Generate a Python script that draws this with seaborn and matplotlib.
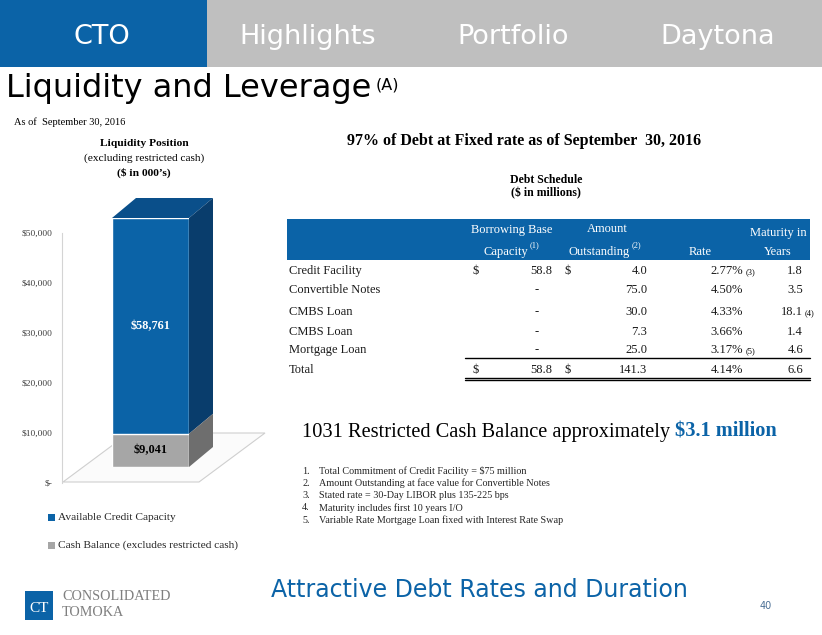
import matplotlib
matplotlib.use("Agg")
import matplotlib.pyplot as plt
from matplotlib.patches import Rectangle, Polygon
import seaborn as sns

# ---------------- data ----------------
nav_items = ["CTO", "Highlights", "Portfolio", "Daytona"]

liquidity_labels = ["Available Credit Capacity", "Cash Balance (excludes restricted cash)"]
credit_capacity = 58761
cash_balance = 9041
tick_values = [0, 10000, 20000, 30000, 40000, 50000]
tick_labels = ["$-", "$10,000", "$20,000", "$30,000", "$40,000", "$50,000"]

debt_names = ["Credit Facility", "Convertible Notes", "CMBS Loan", "CMBS Loan", "Mortgage Loan"]
borrowing_capacity = [58.8, None, None, None, None]
amount_outstanding = [4.0, 75.0, 30.0, 7.3, 25.0]
debt_rates = [2.77, 4.50, 4.33, 3.66, 3.17]
maturity_years = [1.8, 3.5, 18.1, 1.4, 4.6]
rate_notes = ["(3)", "", "", "", "(5)"]
maturity_notes = ["", "", "(4)", "", ""]
total_capacity = 58.8
total_amount = 141.3
total_rate = 4.14
total_maturity = 6.6

footnotes = [
    "Total Commitment of Credit Facility = $75 million",
    "Amount Outstanding at face value for Convertible Notes",
    "Stated rate = 30-Day LIBOR plus 135-225 bps",
    "Maturity includes first 10 years I/O",
    "Variable Rate Mortgage Loan fixed with Interest Rate Swap",
]

# ---------------- style ----------------
BLUE = "#0b63a7"
BLUE_TOP = "#0a4f8a"
BLUE_SIDE = "#093d6c"
GRAY = "#a6a6a6"
GRAY_SIDE = "#6e6e6e"
NAV_GRAY = "#bfbfbf"
SERIF = "Liberation Serif"
SANS = "DejaVu Sans"

sns.set_style("white")
plt.rcParams["font.family"] = [SANS]
plt.rcParams["text.color"] = "black"

W, H = 822, 635
fig = plt.figure(figsize=(W / 100, H / 100), dpi=100)


def box(x0, y0, x1, y1):
    return [x0 / W, 1 - y1 / H, (x1 - x0) / W, (y1 - y0) / H]


# background axes in pixel coordinates
bg = fig.add_axes([0, 0, 1, 1], zorder=0)
bg.set_xlim(0, W)
bg.set_ylim(H, 0)
bg.axis("off")

# header
bg.add_patch(Rectangle((0, 0), 207, 67, color=BLUE, lw=0))
bg.add_patch(Rectangle((207, 0), W - 207, 67, color=NAV_GRAY, lw=0))
for name, xc in zip(nav_items, [102, 308, 513, 718]):
    bg.text(xc, 37, name, color="white", fontsize=19.5, ha="center", va="center")

bg.text(6, 97, "Liquidity and Leverage", fontsize=23, ha="left", va="baseline")
bg.text(376, 78, "(A)", fontsize=11.5, ha="left", va="top")
bg.text(14, 125, "As of  September 30, 2016", fontsize=7.5, family=SERIF, va="baseline")

# ---------------- liquidity chart ----------------
bg.text(144, 143, "Liquidity Position", fontsize=8.2, family=SERIF, weight="bold", ha="center", va="center")
bg.text(144, 158, "(excluding restricted cash)", fontsize=8.2, family=SERIF, ha="center", va="center")
bg.text(144, 173, "($ in 000\u2019s)", fontsize=8.2, family=SERIF, weight="bold", ha="center", va="center")

# floor of the 3D chart
bg.add_patch(Polygon([(63, 482), (199, 482), (265, 433), (129, 433)], closed=True,
                     facecolor="#fbfbfb", edgecolor="#cfcfcf", lw=0.8, zorder=1))

ax = fig.add_axes(box(62, 233, 200, 483), zorder=1)
ax.set_facecolor("none")
ax.set_ylim(0, 50000)
ax.set_xlim(0, 1)
ax.set_yticks(tick_values)
ax.set_yticklabels(tick_labels, fontsize=6.8, family=SERIF, color="#404040")
ax.set_xticks([])
ax.tick_params(axis="y", length=0, pad=7)
for s in ["top", "right", "bottom"]:
    ax.spines[s].set_visible(False)
ax.spines["left"].set_color("#d4d4d4")
ax.spines["left"].set_linewidth(0.8)

total = credit_capacity + cash_balance
ax_bar = fig.add_axes(box(112, 218, 189, 467), zorder=2)
ax_bar.set_facecolor("none")
sns.barplot(x=[""], y=[total], color=BLUE, saturation=1, width=1, ax=ax_bar)
sns.barplot(x=[""], y=[cash_balance], color=GRAY, saturation=1, width=1, ax=ax_bar)
ax_bar.set_xlim(-0.5, 0.5)
ax_bar.set_ylim(0, total)
ax_bar.axis("off")

ax_bar.text(0, cash_balance + credit_capacity / 2, f"${credit_capacity:,}", color="white",
            fontsize=8.8, family=SERIF, weight="bold", ha="center", va="center")
ax_bar.text(0, cash_balance / 2, f"${cash_balance:,}", color="black",
            fontsize=8.8, family=SERIF, weight="bold", ha="center", va="center")

# 3D side and top faces from the bar geometry
to_bg = ax_bar.transData + bg.transData.inverted()
(xl, ytop), (xr, ymid) = to_bg.transform([(-0.5, total), (0.5, cash_balance)])
(_, ybot), = to_bg.transform([(0.5, 0)])
dx, dy = 24, -20
bg.add_patch(Polygon([(xl, ytop), (xr, ytop), (xr + dx, ytop + dy), (xl + dx, ytop + dy)],
                     closed=True, color=BLUE_TOP, lw=0, zorder=2))
bg.add_patch(Polygon([(xr, ytop), (xr + dx, ytop + dy), (xr + dx, ymid + dy), (xr, ymid)],
                     closed=True, color=BLUE_SIDE, lw=0, zorder=2))
bg.add_patch(Polygon([(xr, ymid), (xr + dx, ymid + dy), (xr + dx, ybot + dy), (xr, ybot)],
                     closed=True, color=GRAY_SIDE, lw=0, zorder=2))

# legend
for lab, col, yy in zip(liquidity_labels, [BLUE, GRAY], [517, 545]):
    bg.add_patch(Rectangle((48, yy - 3.5), 7, 7, color=col, lw=0))
    bg.text(58, yy, lab, fontsize=8.2, family=SERIF, va="center", color="#262626")

# ---------------- debt schedule ----------------
bg.text(524, 141, "97% of Debt at Fixed rate as of September  30, 2016", fontsize=11.5,
        family=SERIF, weight="bold", ha="center", va="center")
bg.text(546, 180, "Debt Schedule", fontsize=8.5, family=SERIF, weight="bold", ha="center", va="center")
bg.text(546, 193, "($ in millions)", fontsize=8.5, family=SERIF, weight="bold", ha="center", va="center")

bg.add_patch(Rectangle((287, 219), 810 - 287, 41, color=BLUE, lw=0))
hdr = dict(color="white", fontsize=9, family=SERIF, va="center")
bg.text(512, 230, "Borrowing Base", ha="center", **hdr)
bg.text(528, 252, "Capacity", ha="right", **hdr)
bg.text(530, 245, "(1)", ha="left", color="white", fontsize=6, family=SERIF, va="center")
bg.text(607, 229, "Amount", ha="center", **hdr)
bg.text(630, 252, "Outstanding", ha="right", **hdr)
bg.text(632, 245, "(2)", ha="left", color="white", fontsize=6, family=SERIF, va="center")
bg.text(700, 252, "Rate", ha="center", **hdr)
bg.text(778, 233, "Maturity in", ha="center", **hdr)
bg.text(778, 252, "Years", ha="center", **hdr)

cell = dict(fontsize=9, family=SERIF, va="center", color="#1a1a1a")
row_y = [271, 290, 312, 332, 350]
for i, y in enumerate(row_y):
    bg.text(289, y, debt_names[i], ha="left", **cell)
    if borrowing_capacity[i] is None:
        bg.text(537, y, "-", ha="center", **cell)
    else:
        bg.text(476, y, "$", ha="center", **cell)
        bg.text(552, y, f"{borrowing_capacity[i]:.1f}", ha="right", **cell)
        bg.text(568, y, "$", ha="center", **cell)
    bg.text(647, y, f"{amount_outstanding[i]:.1f}", ha="right", **cell)
    bg.text(743, y, f"{debt_rates[i]:.2f}%", ha="right", **cell)
    bg.text(803, y, f"{maturity_years[i]:.1f}", ha="right", **cell)
    if rate_notes[i]:
        bg.text(746, y + 1, rate_notes[i], ha="left", fontsize=6, family=SERIF, va="center")
    if maturity_notes[i]:
        bg.text(805, y + 1, maturity_notes[i], ha="left", fontsize=6, family=SERIF, va="center")

ty = 370
bg.text(289, ty, "Total", ha="left", **cell)
bg.text(476, ty, "$", ha="center", **cell)
bg.text(552, ty, f"{total_capacity:.1f}", ha="right", **cell)
bg.text(568, ty, "$", ha="center", **cell)
bg.text(647, ty, f"{total_amount:.1f}", ha="right", **cell)
bg.text(743, ty, f"{total_rate:.2f}%", ha="right", **cell)
bg.text(803, ty, f"{total_maturity:.1f}", ha="right", **cell)
bg.plot([465, 810], [358, 358], color="black", lw=1)
bg.plot([465, 810], [377.5, 377.5], color="black", lw=1)
bg.plot([465, 810], [380, 380], color="black", lw=1)

# restricted cash line
t1 = bg.text(302, 437, "1031 Restricted Cash Balance approximately ", fontsize=14.7,
             family=SERIF, ha="left", va="baseline")
bg.annotate("$3.1 million", xy=(1, 0), xycoords=t1, fontsize=14.7, family=SERIF,
            weight="bold", color=BLUE, ha="left", va="bottom")

for i, note in enumerate(footnotes):
    y = 471 + i * 12.3
    bg.text(302, y, f"{i + 1}.", fontsize=7.3, family=SERIF, va="center", color="#262626")
    bg.text(319, y, note, fontsize=7.3, family=SERIF, va="center", color="#262626")

# ---------------- footer ----------------
bg.add_patch(Rectangle((25, 591), 28, 29, color=BLUE, lw=0))
bg.text(39, 608, "CT", color="white", fontsize=11, family=SERIF, ha="center", va="center")
bg.text(62, 596, "CONSOLIDATED", fontsize=10.2, family=SERIF, color="#7f7f7f", va="center")
bg.text(62, 613, "TOMOKA", fontsize=10.2, family=SERIF, color="#7f7f7f", va="center")
bg.text(479, 590, "Attractive Debt Rates and Duration", fontsize=17, color=BLUE,
        ha="center", va="center")
bg.text(766, 606, "40", fontsize=7, color="#4a6f95", ha="center", va="center")

fig.savefig("out.png", dpi=100)
